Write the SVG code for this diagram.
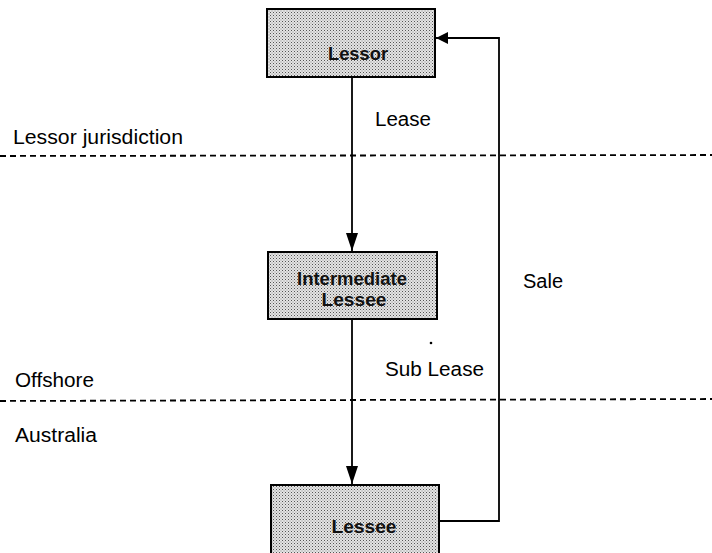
<svg xmlns="http://www.w3.org/2000/svg" width="712" height="553" viewBox="0 0 712 553">
<defs>
<pattern id="stip" width="3" height="3" patternUnits="userSpaceOnUse">
<rect width="3" height="3" fill="#e4e4e4"/>
<rect x="0" y="0" width="1" height="1" fill="#555"/>
<rect x="1.5" y="1.5" width="1" height="1" fill="#888"/>
</pattern>
<marker id="arr" viewBox="0 0 12 18" refX="12" refY="9" markerWidth="12" markerHeight="18" markerUnits="userSpaceOnUse" orient="auto">
<path d="M0,3 L12,9 L0,15 Z" fill="#000"/>
</marker>
<marker id="arrd" viewBox="0 0 18 12" refX="18" refY="6" markerWidth="18" markerHeight="12" markerUnits="userSpaceOnUse" orient="auto">
<path d="M0,0 L18,6 L0,12 Z" fill="#000"/>
</marker>
</defs>
<style>
.box{fill:url(#stip);stroke:#000;stroke-width:2}
.nl{font-family:"Liberation Sans",Arial,sans-serif;font-size:18px;font-weight:bold;fill:#111;text-anchor:middle}
.lbl{font-family:"Liberation Sans",Arial,sans-serif;font-size:20px;fill:#000}
.dash{stroke:#000;stroke-width:1.8;stroke-dasharray:6 4;fill:none}
.con{stroke:#000;stroke-width:1.8;fill:none}
</style>
<g id="boundaries">
<line class="dash" x1="0" y1="156" x2="712" y2="155"/>
<line class="dash" x1="0" y1="401" x2="712" y2="399"/>
</g>
<g id="region-labels">
<text class="lbl" x="13" y="144" textLength="170" lengthAdjust="spacingAndGlyphs">Lessor jurisdiction</text>
<text class="lbl" x="15" y="387" textLength="79" lengthAdjust="spacingAndGlyphs">Offshore</text>
<text class="lbl" x="15" y="442" textLength="82" lengthAdjust="spacingAndGlyphs">Australia</text>
</g>
<g id="connectors">
<path class="con" d="M352,77 L352,251" marker-end="url(#arrd)"/>
<path class="con" d="M352,319 L352,484" marker-end="url(#arrd)"/>
<path class="con" d="M439,521 L499,521 L499,38 L436,38" marker-end="url(#arr)"/>
<text class="lbl" x="375" y="126" textLength="56" lengthAdjust="spacingAndGlyphs">Lease</text>
<text class="lbl" x="385" y="376" textLength="99" lengthAdjust="spacingAndGlyphs">Sub Lease</text>
<text class="lbl" x="523" y="288" textLength="40" lengthAdjust="spacingAndGlyphs">Sale</text>
<circle cx="431" cy="343" r="1.3" fill="#000"/>
</g>
<g id="lessor">
<rect class="box" x="267" y="9" width="168" height="68"/>
<text class="nl" x="358" y="60" textLength="60" lengthAdjust="spacingAndGlyphs">Lessor</text>
</g>
<g id="intermediate-lessee">
<rect class="box" x="268" y="252" width="169" height="67"/>
<text class="nl" x="352" y="285" textLength="110" lengthAdjust="spacingAndGlyphs">Intermediate</text>
<text class="nl" x="354" y="306" textLength="65" lengthAdjust="spacingAndGlyphs">Lessee</text>
</g>
<g id="lessee">
<rect class="box" x="271" y="485" width="168" height="80"/>
<text class="nl" x="364" y="533" textLength="65" lengthAdjust="spacingAndGlyphs">Lessee</text>
</g>
</svg>
